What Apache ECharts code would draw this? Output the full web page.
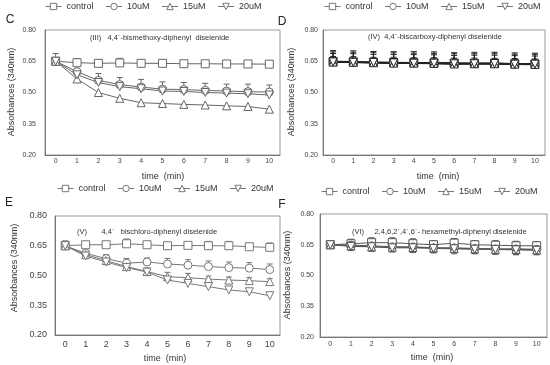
<!DOCTYPE html>
<html><head><meta charset="utf-8">
<script src="https://cdn.jsdelivr.net/npm/echarts@6/dist/echarts.min.js"></script>
<style>html,body{margin:0;padding:0;background:#fff}#c{width:550px;height:365px}</style>
</head><body><div id="c"></div>
<script>
// ---------- DATA ----------
const times = ['0','1','2','3','4','5','6','7','8','9','10'];
const seriesNames = ['control','10uM','15uM','20uM'];
const yTickLabels = ['0.20','0.35','0.50','0.65','0.80'];
const panelLetters = ['C','D','E','F'];
const panelTitles = [
  '(III)   4,4\u00b4-bismethoxy-diphenyl  diselenide',
  '(IV)  4,4\u00b4-biscarboxy-diphenyl diselenide',
  '(V)       4,4\u00b4   bischloro-diphenyl diselenide',
  '(VI)     2,4,6,2\u00b4,4\u00b4,6\u00b4- hexamethyl-diphenyl diselenide'
];
const yAxisTitle = 'Absorbances (340nm)';
const xAxisTitle = 'time  (min)';

// Panel C
const C_control = [0.650,0.643,0.640,0.642,0.640,0.640,0.638,0.638,0.637,0.637,0.636];
const C_10uM    = [0.650,0.600,0.558,0.538,0.526,0.516,0.514,0.510,0.507,0.504,0.502];
const C_15uM    = [0.650,0.565,0.500,0.472,0.451,0.447,0.443,0.440,0.436,0.433,0.420];
const C_20uM    = [0.650,0.585,0.548,0.528,0.518,0.507,0.505,0.500,0.497,0.494,0.488];
const C_control_err = [0,0.020,0,0.022,0,0,0,0,0,0,0];
const C_10uM_err    = [0.037,0.012,0.033,0.034,0.037,0.035,0.034,0.034,0.033,0.036,0.034];
const C_15uM_err    = [0,0,0,0,0,0,0,0,0,0,0];
const C_20uM_err    = [0,0,0,0,0,0,0,0,0,0,0];

// Panel D
const D_control = [0.648,0.647,0.645,0.644,0.643,0.642,0.641,0.640,0.640,0.638,0.637];
const D_10uM    = [0.647,0.646,0.644,0.642,0.642,0.641,0.639,0.639,0.639,0.637,0.636];
const D_15uM    = [0.646,0.645,0.643,0.641,0.641,0.640,0.637,0.638,0.638,0.636,0.635];
const D_20uM    = [0.647,0.645,0.644,0.642,0.641,0.641,0.638,0.638,0.639,0.636,0.636];
const D_control_err = [0.025,0.025,0.024,0.025,0.024,0.025,0.024,0.025,0.024,0.025,0.024];
const D_10uM_err    = [0.040,0.040,0.039,0.040,0.040,0.040,0.039,0.040,0.040,0.040,0.039];
const D_15uM_err    = [0.055,0.055,0.054,0.055,0.055,0.055,0.054,0.055,0.055,0.054,0.054];
const D_20uM_err    = [0.048,0.048,0.047,0.048,0.048,0.047,0.048,0.048,0.047,0.048,0.047];

// Panel E
const E_control = [0.650,0.655,0.655,0.660,0.655,0.650,0.652,0.650,0.650,0.645,0.642];
const E_10uM    = [0.650,0.612,0.585,0.562,0.568,0.558,0.552,0.545,0.540,0.537,0.530];
const E_15uM    = [0.650,0.605,0.575,0.545,0.520,0.494,0.489,0.482,0.477,0.474,0.469];
const E_20uM    = [0.650,0.598,0.568,0.540,0.517,0.477,0.460,0.444,0.427,0.418,0.398];
const E_control_err = [0.025,0.012,0.012,0.024,0.012,0.012,0.012,0.022,0.022,0.012,0.022];
const E_10uM_err    = [0.020,0.015,0.020,0.024,0.020,0.028,0.028,0.028,0.028,0.028,0.028];
const E_15uM_err    = [0,0.015,0.015,0.018,0.018,0.022,0.022,0.015,0.015,0.015,0.015];
const E_20uM_err    = [0,0,0,0,0,0,0,0,0,0,0];

// Panel F
const F_control = [0.650,0.655,0.660,0.660,0.655,0.650,0.658,0.650,0.648,0.645,0.645];
const F_10uM    = [0.650,0.648,0.645,0.640,0.640,0.635,0.635,0.632,0.630,0.630,0.628];
const F_15uM    = [0.650,0.645,0.640,0.638,0.637,0.635,0.632,0.630,0.628,0.627,0.625];
const F_20uM    = [0.650,0.642,0.640,0.635,0.635,0.632,0.630,0.628,0.627,0.625,0.623];
const F_control_err = [0.015,0.022,0.024,0.024,0.024,0.020,0.022,0.020,0.022,0.022,0.020];
const F_10uM_err    = [0.015,0.020,0.022,0.022,0.022,0.020,0.022,0.024,0.024,0.022,0.020];
const F_15uM_err    = [0.015,0.022,0.020,0.022,0.024,0.022,0.020,0.022,0.024,0.024,0.022];
const F_20uM_err    = [0.015,0.020,0.022,0.020,0.022,0.022,0.024,0.022,0.022,0.024,0.022];

// ---------- LAYOUT / STYLE ----------
const FONT = '"Liberation Sans", Arial, sans-serif';
const panels = [
  {vals:[C_control,C_10uM,C_15uM,C_20uM], errs:[C_control_err,C_10uM_err,C_15uM_err,C_20uM_err], both:false,
   grid:{left:45,top:30,width:235,height:125}, lineColor:'#666', lineWidth:1, tickFont:7, xMargin:3, yMargin:9,
   legend:{left:45,top:2}, letter:[10,20], title:[90,38], ylab:[12,92], xlab:[163,177]},
  {vals:[D_control,D_10uM,D_15uM,D_20uM], errs:[D_control_err,D_10uM_err,D_15uM_err,D_20uM_err], both:false,
   grid:{left:323,top:30,width:222,height:125}, lineColor:'#222', lineWidth:1.6, tickFont:7, xMargin:3, yMargin:5,
   legend:{left:324,top:2}, letter:[282,22], title:[368,37], ylab:[292,92], xlab:[438,177]},
  {vals:[E_control,E_10uM,E_15uM,E_20uM], errs:[E_control_err,E_10uM_err,E_15uM_err,E_20uM_err], both:false,
   grid:{left:55,top:216,width:225,height:119}, lineColor:'#777', lineWidth:1, tickFont:9, xMargin:5, yMargin:8,
   legend:{left:57,top:184}, letter:[9,203], title:[77,232], ylab:[15,268], xlab:[165,359]},
  {vals:[F_control,F_10uM,F_15uM,F_20uM], errs:[F_control_err,F_10uM_err,F_15uM_err,F_20uM_err], both:true,
   grid:{left:320,top:214,width:227,height:123}, lineColor:'#555', lineWidth:1, tickFont:7, xMargin:4, yMargin:6,
   legend:{left:321,top:187}, letter:[282,205], title:[352,232], ylab:[288,275], xlab:[432,358]}
];
const symbols = ['rect','circle','triangle','triangle'];
const rotations = [0,0,0,180];

function errRender(both, color){
  return function(params, api){
    const x = api.value(0), y = api.value(1), e = api.value(2);
    if (!e) return {type:'group', children:[]};
    const p = api.coord([x, y]);
    const t = api.coord([x, y + e]);
    const b = both ? api.coord([x, y - e]) : p;
    const w = 3;
    const st = {stroke:color, lineWidth:1};
    const ch = [
      {type:'line', shape:{x1:p[0],y1:b[1],x2:p[0],y2:t[1]}, style:st},
      {type:'line', shape:{x1:p[0]-w,y1:t[1],x2:p[0]+w,y2:t[1]}, style:st}
    ];
    if (both) ch.push({type:'line', shape:{x1:p[0]-w,y1:b[1],x2:p[0]+w,y2:b[1]}, style:st});
    return {type:'group', children:ch};
  };
}

const grids=[], xAxes=[], yAxes=[], series=[], legends=[], graphics=[];
panels.forEach((P, gi) => {
  grids.push(Object.assign({show:true, borderColor:'#999', borderWidth:1, containLabel:false}, P.grid));
  xAxes.push({type:'category', gridIndex:gi, data:times, boundaryGap:true,
    axisLine:{lineStyle:{color:'#777'}}, axisTick:{inside:true,length:3,lineStyle:{color:'#777'}},
    axisLabel:{fontSize:P.tickFont, color:'#444', margin:P.xMargin, fontFamily:FONT}, splitLine:{show:false}});
  yAxes.push({type:'value', gridIndex:gi, min:0.2, max:0.8, interval:0.05,
    axisLine:{show:true, lineStyle:{color:'#777'}}, axisTick:{show:false}, splitLine:{show:false},
    axisLabel:{fontSize:P.tickFont, color:'#444', margin:P.yMargin, fontFamily:FONT,
      formatter: v => { const s = v.toFixed(2); return yTickLabels.includes(s) ? s : ''; }}});
  seriesNames.forEach((name, si) => {
    series.push({type:'custom', name:'err'+gi+'_'+si, xAxisIndex:gi, yAxisIndex:gi, z:1,
      renderItem: errRender(P.both, P.lineColor), encode:{x:0,y:1},
      data: times.map((t,i)=>[i, P.vals[si][i], P.errs[si][i]])});
    series.push({type:'line', name:name, xAxisIndex:gi, yAxisIndex:gi, z:3,
      data:P.vals[si], symbol:symbols[si], symbolRotate:rotations[si],
      symbolSize: 8, showAllSymbol:true,
      lineStyle:{color:P.lineColor, width:P.lineWidth},
      itemStyle:{color:'#fff', borderColor:P.lineColor, borderWidth:1}});
  });
  legends.push({data:seriesNames, left:P.legend.left, top:P.legend.top, width:228, padding:0,
    itemWidth:16, itemHeight:8, itemGap:12, orient:'horizontal',
    lineStyle:{width:1, color:'#777'}, itemStyle:{color:'#fff', borderColor:'#777', borderWidth:1},
    selectedMode:false, textStyle:{fontSize:9, color:'#333', fontFamily:FONT}});
  graphics.push({type:'text', x:P.letter[0], y:P.letter[1], style:{text:panelLetters[gi], fill:'#222', font:'12px '+FONT, align:'center', verticalAlign:'middle'}});
  graphics.push({type:'text', x:P.title[0], y:P.title[1], style:{text:panelTitles[gi], fill:'#333', font:'7.5px '+FONT, align:'left', verticalAlign:'middle'}});
  graphics.push({type:'text', x:P.ylab[0], y:P.ylab[1], rotation:Math.PI/2, style:{text:yAxisTitle, fill:'#333', font:'9px '+FONT, align:'center', verticalAlign:'middle'}});
  graphics.push({type:'text', x:P.xlab[0], y:P.xlab[1], style:{text:xAxisTitle, fill:'#333', font:'9px '+FONT, align:'center', verticalAlign:'middle'}});
});

const chart = echarts.init(document.getElementById('c'), null, {renderer:'canvas'});
chart.setOption({
  animation:false,
  textStyle:{fontFamily:FONT},
  grid:grids, xAxis:xAxes, yAxis:yAxes, series:series, legend:legends, graphic:graphics
});
</script></body></html>
